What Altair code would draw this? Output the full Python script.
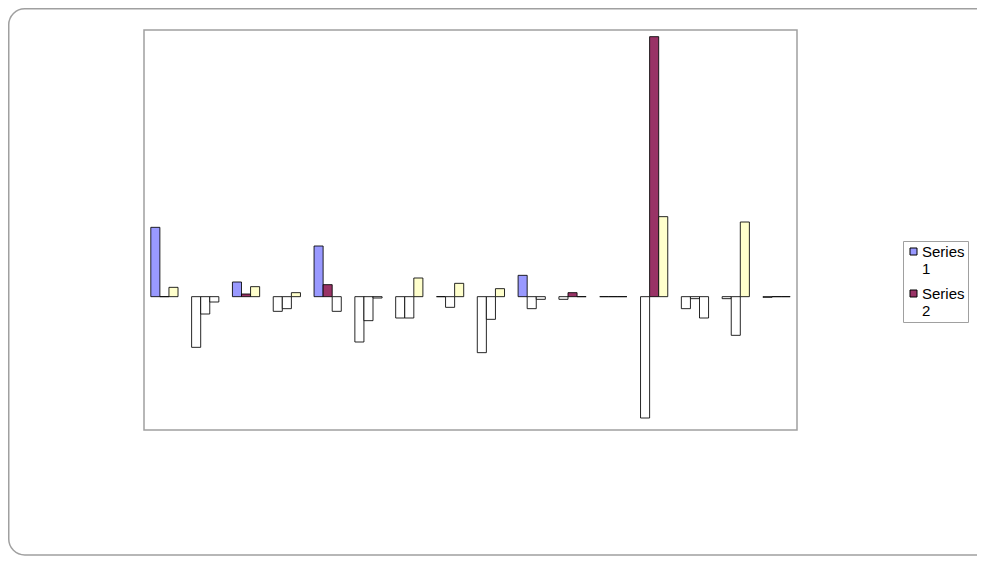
import altair as alt
import pandas as pd

categories = [str(i) for i in range(1, 17)]
series_names = ["Series 1", "Series 2", "Series 3"]
colors = ["#9999FF", "#993366", "#FFFFCC"]

series1 = [0.52, -0.38, 0.11, -0.11, 0.38, -0.34, -0.16, 0.0, -0.42, 0.16, -0.02, 0.0, -0.91, -0.09, -0.015, -0.005]
series2 = [0.0, -0.13, 0.02, -0.09, 0.09, -0.18, -0.16, -0.08, -0.17, -0.09, 0.03, 0.0, 1.95, -0.015, -0.29, 0.0]
series3 = [0.07, -0.04, 0.075, 0.03, -0.11, -0.01, 0.14, 0.10, 0.06, -0.02, 0.0, 0.0, 0.60, -0.16, 0.56, 0.0]

rows = []
for i, c in enumerate(categories):
    for s, vals in zip(series_names, [series1, series2, series3]):
        rows.append({"category": c, "series": s, "value": vals[i]})
df = pd.DataFrame(rows)

W, H = 653, 400
PL, PT = 136, 22
TOTW, TOTH = 969, 548

frame = alt.Chart(pd.DataFrame({"a": [0]})).mark_rect(
    fillOpacity=0, stroke="#a0a0a0", strokeWidth=1.5, cornerRadius=16
).encode(
    x=alt.value(-PL + 0.75), x2=alt.value(TOTW - PL + 30),
    y=alt.value(-PT + 0.75), y2=alt.value(TOTH - PT - 1)
)

bars = alt.Chart(df).mark_bar(stroke="black", strokeWidth=1, strokeOpacity=0.85).encode(
    x=alt.X("category:N", sort=categories, axis=None,
            scale=alt.Scale(paddingInner=0.333, paddingOuter=0.1667)),
    xOffset=alt.XOffset("series:N", sort=series_names,
                        scale=alt.Scale(paddingInner=0, paddingOuter=0)),
    y=alt.Y("value:Q", axis=None, scale=alt.Scale(domain=[-1, 2], nice=False)),
    fill=alt.condition(
        alt.datum.value < 0,
        alt.value("white"),
        alt.Fill("series:N", scale=alt.Scale(domain=series_names, range=colors),
                 legend=alt.Legend(
                     title=None, values=["Series 1", "Series 2"],
                     orient="none", legendX=759, legendY=211,
                     labelExpr="['Series', substring(datum.label, 7)]",
                     symbolType="square", symbolSize=49,
                     symbolStrokeColor="black", symbolStrokeWidth=1,
                     labelFont="Liberation Sans", labelFontSize=15, labelColor="black",
                     strokeColor="#a0a0a0", fillColor="white", padding=3,
                     rowPadding=9, labelOffset=1, symbolOffset=0,
                 )),
    ),
)

chart = alt.layer(frame, bars).properties(
    width=W, height=H,
    autosize=alt.AutoSizeParams(type="none"),
    padding={"left": PL, "top": PT, "right": TOTW - PL - W, "bottom": TOTH - PT - H},
).configure_view(stroke="#a0a0a0", strokeWidth=1.5)

chart.save("out.html", embed_options={"renderer": "svg", "actions": False})
